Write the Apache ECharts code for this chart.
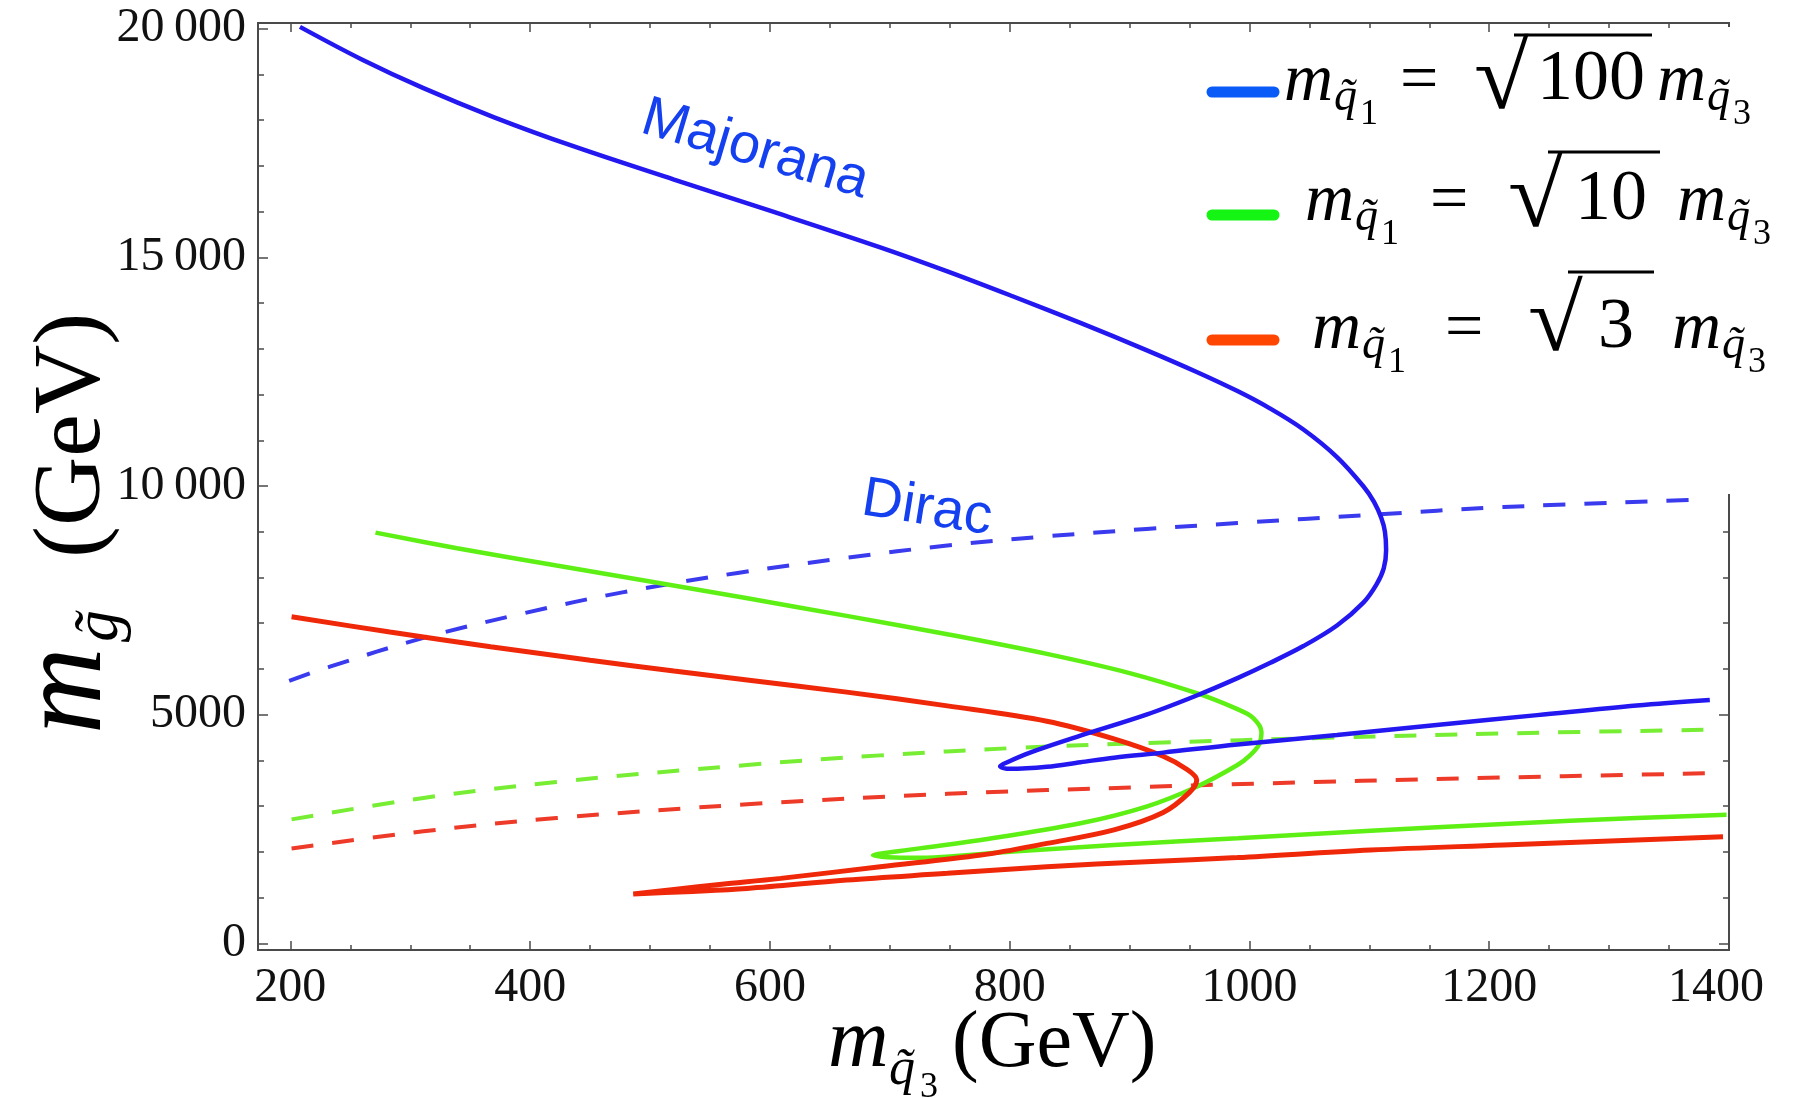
<!DOCTYPE html>
<html>
<head>
<meta charset="utf-8">
<script src="https://cdn.jsdelivr.net/npm/echarts@6/dist/echarts.min.js"></script>
<style>
  html, body { margin: 0; padding: 0; background: #fff; }
  #chart { width: 1798px; height: 1098px; }
</style>
</head>
<body>
<div id="chart"></div>
<script>
// ticks
const xTickValues = [200, 400, 600, 800, 1000, 1200, 1400];
const yTickValues = [0, 5000, 10000, 15000, 20000];

// curves, [m_q3, m_gluino]
const blueMajorana = [
  [208, 20040], [260, 19322], [311, 18700], [370, 18063], [436, 17430], [520, 16700],
  [600, 16020], [692, 15220], [748, 14694], [803, 14144], [859, 13567], [914, 12973],
  [956, 12494], [990, 12076], [1017, 11698], [1045, 11236], [1073, 10634], [1095, 9996],
  [1104, 9650], [1110, 9300], [1113, 9000], [1114, 8600], [1112, 8200], [1106, 7850],
  [1095, 7450], [1073, 6950], [1045, 6500], [1017, 6130], [990, 5800], [956, 5420],
  [914, 5000], [859, 4540], [817, 4170], [798, 3960], [792, 3870], [800, 3815],
  [831, 3860], [859, 3960], [887, 4060], [928, 4170], [990, 4350], [1073, 4555],
  [1156, 4775], [1240, 4990], [1323, 5200], [1384, 5320]
];
const blueDirac = [
  [199, 5740], [233, 6050], [311, 6680], [395, 7220], [478, 7680], [573, 8100],
  [664, 8430], [748, 8700], [831, 8900], [914, 9060], [990, 9190], [1101, 9370],
  [1212, 9540], [1373, 9700]
];
const greenMajorana = [
  [271, 8980], [339, 8640], [422, 8260], [505, 7890], [580, 7550], [664, 7160],
  [748, 6760], [831, 6330], [900, 5910], [956, 5470], [990, 5120], [1003, 4930],
  [1010, 4620], [1008, 4350], [1000, 4100], [990, 3900], [956, 3425], [914, 2990],
  [859, 2625], [776, 2260], [720, 2060], [686, 1920], [720, 1870], [803, 2010],
  [887, 2150], [990, 2300], [1101, 2460], [1212, 2610], [1323, 2740], [1398, 2810]
];
const greenDirac = [
  [201, 2710], [311, 3180], [422, 3530], [581, 3900], [692, 4110], [803, 4270],
  [914, 4380], [1073, 4500], [1212, 4590], [1384, 4670]
];
const redMajorana = [
  [201, 7140], [283, 6808], [367, 6487], [450, 6190], [520, 5956], [581, 5760],
  [664, 5493], [748, 5192], [831, 4856], [887, 4470], [928, 4090], [948, 3800],
  [956, 3570], [950, 3300], [928, 2860], [887, 2480], [831, 2185], [776, 1930],
  [692, 1675], [609, 1420], [560, 1290], [520, 1180], [486, 1080], [530, 1130],
  [581, 1200], [664, 1385], [748, 1530], [831, 1675], [914, 1785], [990, 1875],
  [1101, 2040], [1212, 2150], [1323, 2260], [1395, 2330]
];
const redDirac = [
  [201, 2075], [311, 2450], [422, 2740], [581, 3040], [748, 3270], [914, 3420],
  [1003, 3490], [1184, 3610], [1384, 3720]
];

const legendRoots = ["100", "10", "3"];
const legendColors = ["#0a5af8", "#14f514", "#ff4600"];

var chartDom = document.getElementById("chart");
var myChart = echarts.init(chartDom);
var option;

const xMin = 173, xMax = 1400, yMin = -146, yMax = 20125;
const axisColor = "#4a4a4a";
const serif = "Liberation Serif";

// minor ticks between the major ones
const xMinor = [];
for (let v = 200; v <= 1400; v += 50) if (v % 200) xMinor.push(v);
const yMinor = [];
for (let v = 0; v <= 20000; v += 1000) if (v % 5000) yMinor.push(v);

const makeAxis = (position, ticks, len, label, range) => ({
  type: "value",
  position: position,
  min: range[0],
  max: range[1],
  axisLine: { show: true, onZero: false, lineStyle: { color: axisColor, width: 2 } },
  axisTick: { show: true, inside: true, length: len, customValues: ticks, lineStyle: { color: axisColor, width: 1.5 } },
  axisLabel: label || { show: false },
  splitLine: { show: false },
});

const xLabel = {
  show: true,
  customValues: xTickValues,
  fontFamily: serif,
  fontSize: 48,
  color: "#111",
  margin: 14,
  formatter: function (v) {
    return v === 1400 ? "{r|1400}" : String(v);
  },
  rich: { r: { fontFamily: serif, fontSize: 48, color: "#111", padding: [0, 26, 0, 0] } },
};
const yLabel = {
  show: true,
  customValues: yTickValues,
  fontFamily: serif,
  fontSize: 48,
  color: "#111",
  margin: 12,
  formatter: function (v) {
    return v >= 10000 ? String(v).replace(/(\d+)(\d{3})$/, "$1\u2009$2") : String(v);
  },
};

const curve = (data, color, width, dashed) => ({
  type: "line",
  data: data,
  showSymbol: false,
  symbol: "none",
  smooth: 0.35,
  lineStyle: { color: color, width: width, type: dashed ? [22, 19] : "solid" },
});

// baseline-positioned text
const txt = (x, base, size, text, italic) => ({
  type: "text",
  x: x,
  y: base - 0.34 * size,
  z: 50,
  style: {
    text: text,
    fontFamily: serif,
    fontSize: size,
    fontStyle: italic ? "italic" : "normal",
    fill: "#000",
    align: "left",
    verticalAlign: "middle",
  },
});

const rowLayout = [
  { base: 105, sw: 92, m1: 1284, eq: 1400, sq: 1474, num: 1537, ov: 35, ovEnd: 1652, m2: 1657 },
  { base: 225, sw: 215, m1: 1305, eq: 1430, sq: 1508, num: 1575, ov: 152, ovEnd: 1660, m2: 1677 },
  { base: 353, sw: 340, m1: 1312, eq: 1445, sq: 1528, num: 1598, ov: 272, ovEnd: 1654, m2: 1672 },
];

const graphics = [];
rowLayout.forEach((r, i) => {
  graphics.push({
    type: "line",
    z: 50,
    shape: { x1: 1212, y1: r.sw, x2: 1274, y2: r.sw },
    style: { stroke: legendColors[i], lineWidth: 11, lineCap: "round" },
  });
  graphics.push(txt(r.m1, r.base, 68, "m", true));
  graphics.push(txt(r.m1 + 50, r.base + 9, 46, "q\u0303", true));
  graphics.push(txt(r.m1 + 76, r.base + 22, 36, "1", false));
  graphics.push(txt(r.eq, r.base, 68, "=", false));
  // radical sign, stretched to reach the bar
  graphics.push({
    type: "text",
    x: r.sq,
    y: (r.ov + r.base) / 2 + 13,
    scaleX: 1.0,
    scaleY: 0.94,
    z: 50,
    style: { text: "\u221a", fontFamily: serif, fontSize: 100, fill: "#000", align: "left", verticalAlign: "middle" },
  });
  graphics.push({
    type: "line",
    z: 50,
    shape: { x1: r.sq + 40, y1: r.ov, x2: r.ovEnd, y2: r.ov },
    style: { stroke: "#000", lineWidth: 3 },
  });
  graphics.push(txt(r.num, r.base, 72, legendRoots[i], false));
  graphics.push(txt(r.m2, r.base, 68, "m", true));
  graphics.push(txt(r.m2 + 50, r.base + 9, 46, "q\u0303", true));
  graphics.push(txt(r.m2 + 76, r.base + 22, 36, "3", false));
});

// x title
graphics.push(txt(828, 1072, 84, "m", true));
graphics.push(txt(889, 1088, 52, "q\u0303", true));
graphics.push(txt(920, 1100, 36, "3", false));
graphics.push(txt(952, 1072, 80, "(GeV)", false));

// y title, rotated to read upwards
graphics.push({
  type: "group",
  x: 0,
  y: 734,
  rotation: Math.PI / 2,
  children: [
    txt(0, 109, 120, "m", true),
    txt(92, 122, 64, "g\u0303", true),
    txt(176, 106, 96, "(GeV)", false),
  ],
});

// curve labels
graphics.push({
  type: "text", x: 755, y: 150, rotation: -16.5 * Math.PI / 180, z: 40,
  style: { text: "Majorana", fontFamily: "Liberation Sans", fontSize: 56, fill: "#1540f0", align: "center", verticalAlign: "middle" },
});
graphics.push({
  type: "text", x: 927, y: 509, rotation: -9 * Math.PI / 180, z: 40,
  style: { text: "Dirac", fontFamily: "Liberation Sans", fontSize: 56, fill: "#1540f0", align: "center", verticalAlign: "middle" },
});

// the legend patch hides the upper part of the right frame
graphics.push({
  type: "rect", z: 30,
  shape: { x: 1714, y: 27, width: 40, height: 467 },
  style: { fill: "#fff" },
});

option = {
  animation: false,
  backgroundColor: "#fff",
  grid: { left: 258, right: 69, top: 23, bottom: 148, outerBoundsMode: "none" },
  xAxis: [
    makeAxis("bottom", xTickValues, 9, xLabel, [xMin, xMax]),
    makeAxis("bottom", xMinor, 5, null, [xMin, xMax]),
    makeAxis("top", xTickValues, 9, null, [xMin, xMax]),
    makeAxis("top", xMinor, 5, null, [xMin, xMax]),
  ],
  yAxis: [
    makeAxis("left", yTickValues, 10, yLabel, [yMin, yMax]),
    makeAxis("left", yMinor, 6, null, [yMin, yMax]),
    makeAxis("right", yTickValues, 10, null, [yMin, yMax]),
    makeAxis("right", yMinor, 6, null, [yMin, yMax]),
  ],
  series: [
    curve(blueDirac, "#3a3aee", 4, true),
    curve(greenDirac, "#77ee33", 4, true),
    curve(redDirac, "#ee3a28", 4, true),
    curve(greenMajorana, "#5ef014", 4.5, false),
    curve(redMajorana, "#f0280a", 5, false),
    curve(blueMajorana, "#2418f0", 4.5, false),
  ],
  graphic: graphics,
};

option && myChart.setOption(option);
</script>
</body>
</html>
